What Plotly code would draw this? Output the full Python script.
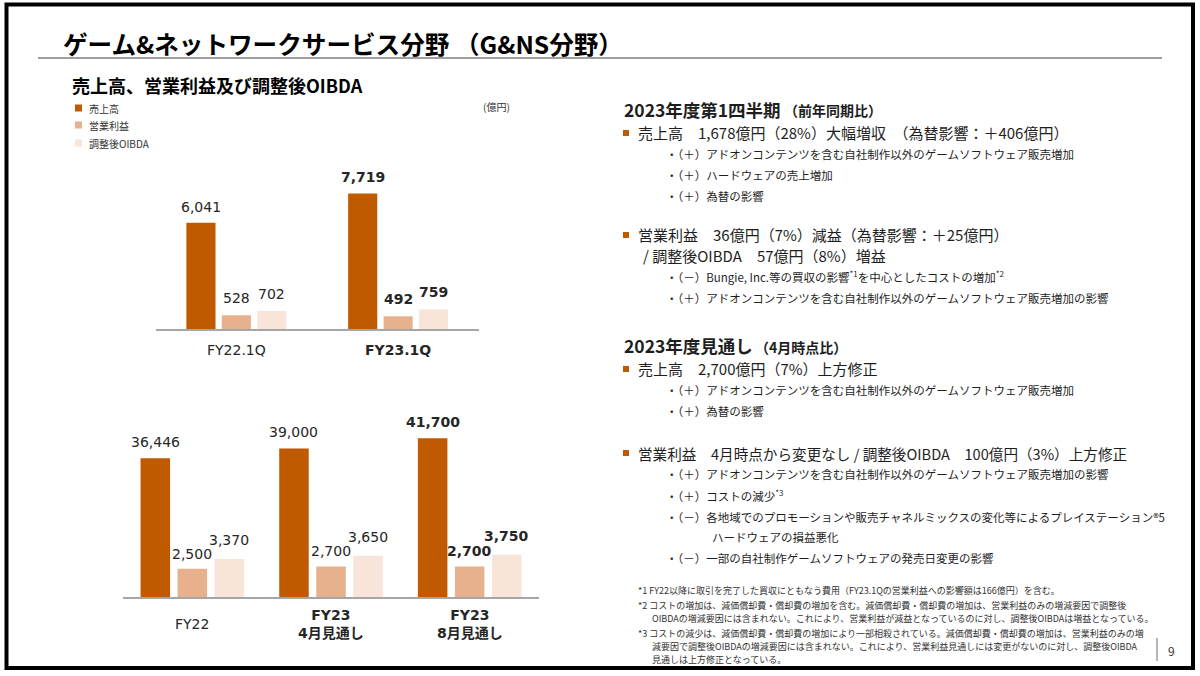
import plotly.graph_objects as go

# ---------------- data ----------------
series_names = ["売上高", "営業利益", "調整後OIBDA"]

q_categories = ["FY22.1Q", "FY23.1Q"]
q_tick_labels = ["FY22.1Q", "<b>FY23.1Q</b>"]
q_sales = [6041, 7719]
q_op_income = [528, 492]
q_oibda = [702, 759]
q_bold = [False, True]

y_categories = ["FY22", "FY23 4月見通し", "FY23 8月見通し"]
y_tick_labels = ["FY22", "<b>FY23<br>4月見通し</b>", "<b>FY23<br>8月見通し</b>"]
y_sales = [36446, 39000, 41700]
y_op_income = [2500, 2700, 2700]
y_oibda = [3370, 3650, 3750]
y_bold = [False, False, True]

# ---------------- style ----------------
W, H = 1200, 676
C_SALES = "#C05A00"
C_OI = "#E8B18D"
C_OIBDA = "#F8E4D8"
COLORS = [C_SALES, C_OI, C_OIBDA]
AXIS_GRAY = "#A6A6A6"
TXT = "#1E1E1E"
JP = "Noto Sans CJK JP"
NUM = "DejaVu Sans, Noto Sans CJK JP"


def fx(x):
    return x / W


def fy(y):
    return 1 - y / H


fig = go.Figure()

TOP_PITCH, TOP_W = 0.219, 0.18
BOT_PITCH, BOT_W = 0.267, 0.213


def add_group(xcats, values_list, xa, ya_sales, ya_profit, pitch, w):
    shifts = [-pitch, 0.0, pitch]
    for k, vals in enumerate(values_list):
        fig.add_trace(go.Bar(
            x=xcats, y=vals, name=series_names[k],
            xaxis=xa, yaxis=ya_sales if k == 0 else ya_profit,
            width=[w] * len(xcats), offset=[shifts[k] - w / 2] * len(xcats),
            marker=dict(color=COLORS[k], line=dict(width=0)),
            textposition="none",
            showlegend=False, hoverinfo="skip",
        ))


add_group(q_categories, [q_sales, q_op_income, q_oibda], "x", "y", "y2", TOP_PITCH, TOP_W)
add_group(y_categories, [y_sales, y_op_income, y_oibda], "x2", "y3", "y4", BOT_PITCH, BOT_W)

annotations = []


def value_labels(values_list, bold, xref, yrefs, pitch, lifts):
    shifts = [-pitch, 0.0, pitch]
    for k, vals in enumerate(values_list):
        for i, v in enumerate(vals):
            t = f"{v:,}"
            if bold[i]:
                t = f"<b>{t}</b>"
            annotations.append(dict(
                x=i + shifts[k], y=v, xref=xref, yref=yrefs[k], text=t,
                showarrow=False, xanchor="center", yanchor="middle", yshift=lifts[k],
                font=dict(family=NUM, size=14, color="#262626"),
            ))


value_labels([q_sales, q_op_income, q_oibda], q_bold, "x", ["y", "y2", "y2"], TOP_PITCH, [16, 17, 17])
value_labels([y_sales, y_op_income, y_oibda], y_bold, "x2", ["y3", "y4", "y4"], BOT_PITCH, [16, 15, 19])

for i, lab in enumerate(q_tick_labels):
    annotations.append(dict(x=i, y=0, xref="x", yref="y", text=lab, showarrow=False,
                            yanchor="middle", yshift=-21,
                            font=dict(family=NUM, size=14, color="#262626")))
for i, lab in enumerate(y_tick_labels):
    annotations.append(dict(x=i, y=0, xref="x2", yref="y3", text=lab, showarrow=False,
                            yanchor="middle", yshift=-27, align="center",
                            font=dict(family=NUM, size=14, color="#262626")))


def txt(text, x, y, size, color=TXT, family=JP):
    annotations.append(dict(x=fx(x), y=fy(y), xref="paper", yref="paper", text=text,
                            showarrow=False, xanchor="left", yanchor="middle",
                            font=dict(family=family, size=size, color=color)))


# titles
txt("<b>ゲーム&amp;ネットワークサービス分野 （G&amp;NS分野）</b>", 61, 43, 24.6, "#000")
txt("<b>売上高、営業利益及び調整後OIBDA</b>", 70, 85, 18, "#000")
# custom legend
legend_y = [108, 125, 143]
for k, name in enumerate(series_names):
    txt(name, 87, legend_y[k], 10, "#333")
txt("(億円)", 481, 106, 10, "#333")

# right side text
txt("<b>2023年度第1四半期</b>", 622, 109, 17.5)
txt("<b>（前年同期比）</b>", 782, 110, 14)
txt("売上高　1,678億円（28%）大幅増収　（為替影響：＋406億円）", 636, 133, 15)
txt("・（＋）アドオンコンテンツを含む自社制作以外のゲームソフトウェア販売増加", 664, 154, 11.5)
txt("・（＋）ハードウェアの売上増加", 664, 175, 11.5)
txt("・（＋）為替の影響", 664, 196, 11.5)
txt("営業利益　36億円（7%）減益（為替影響：＋25億円）", 636, 235, 15)
txt("/ 調整後OIBDA　57億円（8%）増益", 641, 256, 15)
txt("・（－）Bungie, Inc.等の買収の影響<sup>*1</sup>を中心としたコストの増加<sup>*2</sup>", 664, 276, 11.5)
txt("・（＋）アドオンコンテンツを含む自社制作以外のゲームソフトウェア販売増加の影響", 664, 298, 11.5)

txt("<b>2023年度見通し</b>", 622, 346, 17.5)
txt("<b>（4月時点比）</b>", 753, 347, 14)
txt("売上高　2,700億円（7%）上方修正", 636, 369, 15)
txt("・（＋）アドオンコンテンツを含む自社制作以外のゲームソフトウェア販売増加", 664, 390, 11.5)
txt("・（＋）為替の影響", 664, 411, 11.5)
txt("営業利益　4月時点から変更なし / 調整後OIBDA　100億円（3%）上方修正", 636, 453, 14.6)
txt("・（＋）アドオンコンテンツを含む自社制作以外のゲームソフトウェア販売増加の影響", 664, 474, 11.5)
txt("・（＋）コストの減少<sup>*3</sup>", 664, 495, 11.5)
txt("・（－）各地域でのプロモーションや販売チャネルミックスの変化等によるプレイステーション®5", 664, 517, 11.5)
txt("ハードウェアの損益悪化", 710, 537, 11.5)
txt("・（－）一部の自社制作ゲームソフトウェアの発売日変更の影響", 664, 558, 11.5)

# footnotes
txt("*1 FY22以降に取引を完了した買収にともなう費用（FY23.1Qの営業利益への影響額は166億円）を含む。", 636, 590, 9, "#333")
txt("*2 コストの増加は、減価償却費・償却費の増加を含む。減価償却費・償却費の増加は、営業利益のみの増減要因で調整後", 636, 605, 9, "#333")
txt("OIBDAの増減要因には含まれない。これにより、営業利益が減益となっているのに対し、調整後OIBDAは増益となっている。", 650, 618, 9, "#333")
txt("*3 コストの減少は、減価償却費・償却費の増加により一部相殺されている。減価償却費・償却費の増加は、営業利益のみの増", 636, 633, 9, "#333")
txt("減要因で調整後OIBDAの増減要因には含まれない。これにより、営業利益見通しには変更がないのに対し、調整後OIBDA", 650, 646, 9, "#333")
txt("見通しは上方修正となっている。", 650, 659, 9, "#333")
txt("9", 1166, 650, 12, "#333")

shapes = [
    dict(type="rect", xref="paper", yref="paper", x0=fx(6.5), x1=fx(1193), y0=fy(668), y1=fy(4.5),
         line=dict(color="#000", width=4), fillcolor="rgba(0,0,0,0)"),
    dict(type="line", xref="paper", yref="paper", x0=fx(38), x1=fx(1162), y0=fy(58), y1=fy(58),
         line=dict(color="#7F7F7F", width=1.5)),
    dict(type="line", xref="paper", yref="paper", x0=fx(1157), x1=fx(1157), y0=fy(638), y1=fy(661),
         line=dict(color="#A0A0A0", width=1.5)),
]
for k in range(3):
    shapes.append(dict(type="rect", xref="paper", yref="paper", x0=fx(75), x1=fx(82),
                       y0=fy(legend_y[k] + 3.5), y1=fy(legend_y[k] - 3.5),
                       line=dict(width=0), fillcolor=COLORS[k]))
for yb in [133, 235, 369, 453]:
    shapes.append(dict(type="rect", xref="paper", yref="paper", x0=fx(623), x1=fx(629),
                       y0=fy(yb + 3), y1=fy(yb - 3), line=dict(width=0), fillcolor=C_SALES))

hidden_y = dict(visible=False, showgrid=False, zeroline=False, fixedrange=True)
x_common = dict(showticklabels=False, ticks="", showgrid=False, zeroline=False, showline=True,
                linecolor=AXIS_GRAY, linewidth=1.5, fixedrange=True)

fig.update_layout(
    width=W, height=H, margin=dict(l=0, r=0, t=0, b=0),
    paper_bgcolor="white", plot_bgcolor="rgba(0,0,0,0)",
    barmode="overlay", showlegend=False,
    xaxis=dict(domain=[fx(155.5), fx(479)], range=[-0.5, 1.5], anchor="y", **x_common),
    yaxis=dict(domain=[fy(329), fy(170)], range=[0, 9050], anchor="x", **hidden_y),
    yaxis2=dict(overlaying="y", range=[0, 6160], anchor="x", **hidden_y),
    xaxis2=dict(domain=[fx(123), fx(539)], range=[-0.5, 2.5], anchor="y3", **x_common),
    yaxis3=dict(domain=[fy(597), fy(410)], range=[0, 49100], anchor="x2", **hidden_y),
    yaxis4=dict(overlaying="y3", range=[0, 16550], anchor="x2", **hidden_y),
    annotations=annotations, shapes=shapes,
)

fig.write_html("out.html", post_script="document.body.style.margin='0';",
               config={"displayModeBar": False})
